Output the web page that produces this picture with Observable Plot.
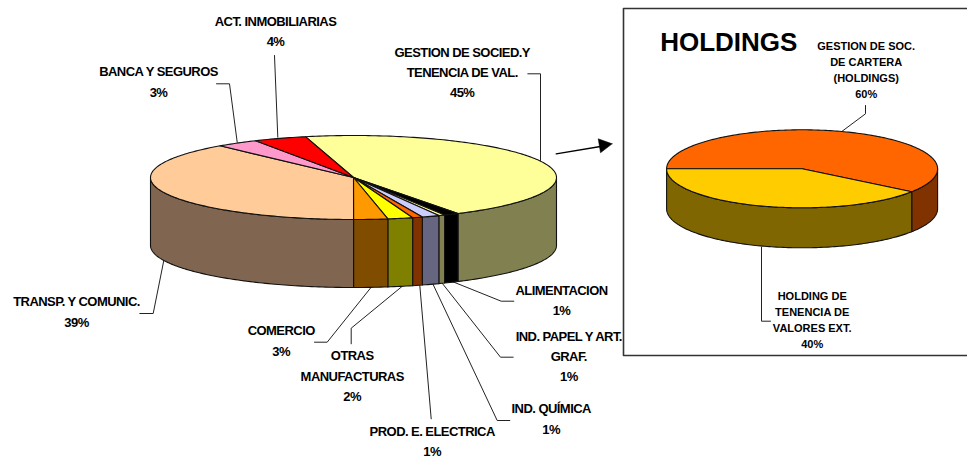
<!DOCTYPE html>
<html><head><meta charset="utf-8">
<style>html,body{margin:0;padding:0;background:#fff}svg{display:block}</style>
<script src="https://cdn.jsdelivr.net/npm/d3@7"></script>
<script src="https://cdn.jsdelivr.net/npm/@observablehq/plot@0.6"></script>
</head><body><div id="chart"></div>
<script>
// Main pie, clockwise from the GESTION slice
const mainNames = ["GESTION DE SOCIED.Y\nTENENCIA DE VAL.","ALIMENTACION","IND. PAPEL Y ART.\nGRAF.","IND. QUÍMICA","PROD. E. ELECTRICA","OTRAS\nMANUFACTURAS","COMERCIO","TRANSP. Y COMUNIC.","BANCA Y SEGUROS","ACT. INMOBILIARIAS"];
const mainValues = [45.2,1.2,0.5,1.4,0.8,2.0,2.7,38.6,3.4,4.2];
const mainLabels = ["45%","1%","1%","1%","1%","2%","3%","39%","3%","4%"];
const mainTop  = ["#FFFF99","#000000","#FFFF99","#CCCCFF","#FF6600","#FFFF00","#FF9900","#FFCC99","#FF99CC","#FF0000"];
const mainSide = ["#808050","#000000","#808050","#666680","#803300","#808000","#804D00","#806650","#804D66","#800000"];
const mainLabelX = [461.7,561,568.3,550.7,431.7,351.7,280.7,76,158,275];
const mainLabelY = [72.3,300.3,356.5,419,441.7,376,341,312,82,31.8];
const mainLeaders = [
 [[527.3,73.3],[540,73.3],[540,160]],
 [[513.3,300.7],[500.7,300.7],[451.7,281]],
 [[512.7,356.7],[500,356.7],[441.7,282.7]],
 [[509.3,420],[496.7,420],[432.3,283.3]],
 [[430.7,418.3],[419.3,285]],
 [[350.7,343.3],[350.7,327.7],[402.7,285]],
 [[314,341.7],[326.7,341.7],[370.7,286.7]],
 [[139.3,313],[152.7,313],[163.3,260]],
 [[216,83.3],[229,83.3],[236.7,141.7]],
 [[274,55],[277.3,136.7]]
];
// Holdings pie
const holdNames = ["GESTION DE SOC.\nDE CARTERA\n(HOLDINGS)","HOLDING DE\nTENENCIA DE\nVALORES EXT."];
const holdValues = [60,40];
const holdLabels = ["60%","40%"];
const holdTop = ["#FF6600","#FFCC00"];
const holdSide = ["#803300","#806600"];
const holdLabelX = [865.7,811.7];
const holdLabelY = [70,320];
const holdLeaders = [
 [[865,105],[865,113.3],[841.7,130.7]],
 [[770,320.7],[761,320.7],[761,246.7]]
];
const title = "HOLDINGS";
const mainGeom = {cx:353,cy:177,rx:203,ry:42,depth:68,start:256.3};
const holdGeom = {cx:801.6,cy:168.3,rx:135.5,ry:39,depth:40,start:180};
const boxOutline = [[967,8],[623,8],[623,355],[967,355]];
const arrowShaft = [[555.7,153.3],[600,146]];
const arrowHead = [[611.7,143.3],[597.7,138.3],[600,152.3],[611.7,143.3]];

function pieMarks(values, top, side, g){
  const rad = a => a*Math.PI/180;
  const P = (a,d=0)=>({x:g.cx+g.rx*Math.cos(rad(a)), y:g.cy+g.ry*Math.sin(rad(a))+d});
  const arc = (a,b,d=0)=>{const n=Math.max(2,Math.ceil(b-a)+1);return d3.range(n).map(i=>P(a+(b-a)*i/(n-1),d));};
  const total = d3.sum(values);
  let acc = g.start;
  const walls=[], tops=[];
  values.forEach((v,i)=>{
    const a=acc, b=acc+v/total*360; acc=b;
    const lo=Math.max(a,360), hi=Math.min(b,540);
    if(hi>lo){
      const pts=[...arc(lo,hi),...arc(lo,hi,g.depth).reverse()];
      pts.push(pts[0]);
      walls.push(Plot.line(pts,{x:"x",y:"y",fill:side[i],stroke:"#111",strokeWidth:1.1}));
    }
    const pts=[{x:g.cx,y:g.cy},...arc(a,b),{x:g.cx,y:g.cy}];
    tops.push(Plot.line(pts,{x:"x",y:"y",fill:top[i],stroke:"#111",strokeWidth:1.1}));
  });
  return [...walls,...tops];
}
const asRows = pts => pts.map(([x,y])=>({x,y}));
const leaderMarks = ls => ls.map(l=>Plot.line(asRows(l),{x:"x",y:"y",stroke:"#222",strokeWidth:1}));
const textRows = (names,labels,xs,ys)=>names.map((n,i)=>({t:n+"\n"+labels[i],x:xs[i],y:ys[i]}));
const font = {fontFamily:"Liberation Sans, Arial, sans-serif",fontWeight:"bold",fill:"#000",textAnchor:"middle",lineAnchor:"middle"};

const plot = Plot.plot({
  width:967,height:459,margin:0,
  x:{type:"identity",axis:null},y:{type:"identity",axis:null},
  marks:[
    Plot.line(asRows(boxOutline),{x:"x",y:"y",stroke:"#333",strokeWidth:1.6}),
    ...leaderMarks(mainLeaders),
    ...leaderMarks(holdLeaders),
    ...pieMarks(mainValues,mainTop,mainSide,mainGeom),
    ...pieMarks(holdValues,holdTop,holdSide,holdGeom),
    Plot.line(asRows(arrowShaft),{x:"x",y:"y",stroke:"#000",strokeWidth:1.3}),
    Plot.line(asRows(arrowHead),{x:"x",y:"y",fill:"#000",stroke:"#000",strokeWidth:0.5}),
    Plot.text(textRows(mainNames,mainLabels,mainLabelX,mainLabelY),{...font,x:"x",y:"y",dy:-2.5,text:"t",fontSize:13,lineHeight:1.56}),
    Plot.text(textRows(holdNames,holdLabels,holdLabelX,holdLabelY),{...font,x:"x",y:"y",dy:-1.5,text:"t",fontSize:11,lineHeight:1.45}),
    Plot.text([title],{...font,x:()=>728.3,y:()=>41.7,text:d=>d,fontSize:26})
  ]
});
document.getElementById("chart").append(plot);
// tighter tracking for the main-pie labels
plot.querySelectorAll('g[aria-label="text"]')[0].style.letterSpacing="-0.55px";
</script></body></html>
